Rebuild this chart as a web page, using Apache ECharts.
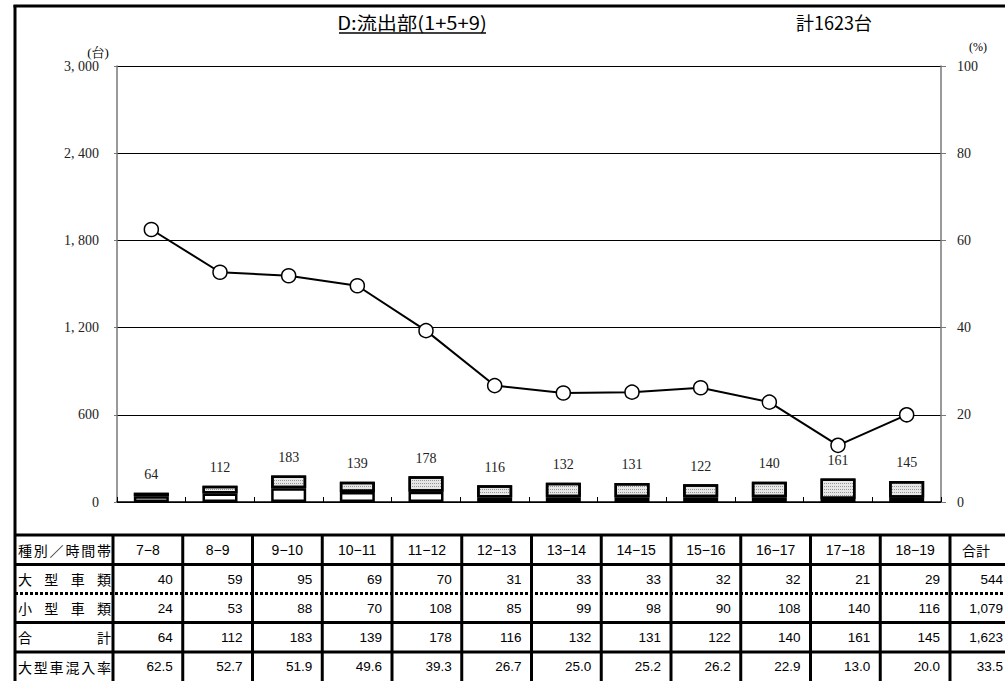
<!DOCTYPE html>
<html>
<head>
<meta charset="utf-8">
<script src="https://cdn.jsdelivr.net/npm/echarts@6/dist/echarts.min.js"></script>
<style>
  html, body { margin: 0; padding: 0; background: #fff; }
  #chart { width: 1005px; height: 681px; }
</style>
</head>
<body>
<div id="chart"></div>
<script>
// Hourly traffic at the outflow section, split by vehicle class
const hours = ['7−8', '8−9', '9−10', '10−11', '11−12', '12−13', '13−14', '14−15', '15−16', '16−17', '17−18', '18−19'];
const largeVehicles = [40, 59, 95, 69, 70, 31, 33, 33, 32, 32, 21, 29];
const smallVehicles = [24, 53, 88, 70, 108, 85, 99, 98, 90, 108, 140, 116];
const totals = [64, 112, 183, 139, 178, 116, 132, 131, 122, 140, 161, 145];
const largeShare = [62.5, 52.7, 51.9, 49.6, 39.3, 26.7, 25.0, 25.2, 26.2, 22.9, 13.0, 20.0];

// Day totals for the last table column
const sumLarge = '544';
const sumSmall = '1,079';
const sumTotal = '1,623';
const sumShare = '33.5';

// Row headings of the table
const rowHeads = ['種別／時間帯', '大型車類', '小型車類', '合計', '大型車混入率'];
const totalHead = '合計';

const titleText = 'D:流出部(1+5+9)';
const totalText = '計1623台';

const fmtCount = v => String(v).replace(/\B(?=(\d{3})+(?!\d))/g, ', ');
const fmtInt = v => String(v).replace(/\B(?=(\d{3})+(?!\d))/g, ',');

const SANS = "'Liberation Sans','Noto Sans CJK JP',sans-serif";
const JP = "'Noto Sans CJK JP',sans-serif";
const SERIF = "'Liberation Serif','Noto Serif CJK JP',serif";

// ---- table geometry ----
const tblLeft = 15;
const headColRight = 113;
const colW = 69.75;
const sumColRight = 1012;
const rowTops = [535, 564.5, 593.5, 622.5, 652, 681.5];

const graphics = [];

function hLine(x1, x2, y, w, dash) {
  graphics.push({
    type: 'line', silent: true,
    shape: { x1: x1, y1: y, x2: x2, y2: y },
    style: { stroke: '#000', lineWidth: w, lineDash: dash || null }
  });
}
function vLine(x, y1, y2, w) {
  graphics.push({
    type: 'line', silent: true,
    shape: { x1: x, y1: y1, x2: x, y2: y2 },
    style: { stroke: '#000', lineWidth: w }
  });
}
function txt(s, x, y, align, font, size, extra) {
  const el = {
    type: 'text', silent: true, x: x, y: y,
    style: {
      text: s, fill: '#000', fontSize: size, fontFamily: font,
      align: align, verticalAlign: 'middle',
      textAlign: align, textVerticalAlign: 'middle'
    }
  };
  graphics.push(Object.assign(el, extra || {}));
}
// spreads the characters of a heading across the first column
function spread(s, y) {
  const chars = Array.from(s);
  const left = 18, right = 111, cw = 14;
  const step = chars.length > 1 ? (right - left - cw) / (chars.length - 1) : 0;
  chars.forEach((c, i) => txt(c, left + cw / 2 + i * step, y, 'center', JP, 14));
}

// outer frame
hLine(tblLeft - 1.5, 1010, 6, 3);
vLine(tblLeft, 5, 681, 3);

// title (slightly widened, underlined)
txt(titleText, 412, 22, 'center', JP, 18, { scaleX: 1.12 });
graphics.push({
  type: 'line', silent: true,
  shape: { x1: 339, y1: 33, x2: 486, y2: 33 },
  style: { stroke: '#000', lineWidth: 1.3 }
});
txt(totalText, 834, 22, 'center', JP, 18);

// unit captions
txt('(台)', 98, 52, 'center', SERIF, 13);
txt('(%)', 978, 47, 'center', SERIF, 12);

// table rules
hLine(tblLeft, sumColRight, rowTops[0], 3);
hLine(tblLeft, sumColRight, rowTops[1], 3);
hLine(tblLeft, sumColRight, rowTops[2], 3, [3, 2]);
hLine(tblLeft, sumColRight, rowTops[3], 3);
hLine(tblLeft, sumColRight, rowTops[4], 3);
vLine(headColRight, rowTops[0], 681, 3);
for (let k = 1; k <= hours.length; k++) {
  vLine(headColRight + colW * k, rowTops[0], 681, 3);
}

// table texts
const rowMid = r => (rowTops[r] + rowTops[r + 1]) / 2;
rowHeads.forEach((h, r) => {
  if (r === 3) {
    txt('合', 25, rowMid(r), 'center', JP, 14);
    txt('計', 104, rowMid(r), 'center', JP, 14);
  } else {
    spread(h, rowMid(r));
  }
});
const rows = [largeVehicles.map(String), smallVehicles.map(String), totals.map(String), largeShare.map(v => v.toFixed(1))];
const sums = [sumLarge, sumSmall, sumTotal, sumShare];
hours.forEach((h, i) => {
  const cx = headColRight + colW * (i + 0.5);
  const rx = headColRight + colW * (i + 1) - 10;
  txt(h, cx, rowMid(0), 'center', SANS, 14);
  rows.forEach((vals, r) => txt(vals[i], rx, rowMid(r + 1), 'right', SANS, 13.5));
});
txt(totalHead, 976, rowMid(0), 'center', JP, 14);
sums.forEach((s, r) => txt(s, 1003, rowMid(r + 1), 'right', SANS, 13.5));

const chart = echarts.init(document.getElementById('chart'), null, { renderer: 'svg' });

chart.setOption({
  backgroundColor: '#fff',
  animation: false,
  grid: { left: 117, right: 64, top: 66, bottom: 179, containLabel: false },
  xAxis: {
    type: 'category',
    data: hours,
    boundaryGap: true,
    axisLine: { lineStyle: { color: '#000', width: 1.5 } },
    axisTick: { show: true, inside: true, length: 5, lineStyle: { color: '#000', width: 1 } },
    axisLabel: { show: false },
    splitLine: { show: false }
  },
  yAxis: [
    {
      type: 'value', min: 0, max: 3000, interval: 600,
      axisLine: { show: true, lineStyle: { color: '#777', width: 1.5 } },
      axisTick: { show: true, length: 3, lineStyle: { color: '#777' } },
      axisLabel: { margin: 18, color: '#222', fontFamily: SERIF, fontSize: 14, formatter: fmtCount },
      splitLine: { show: true, lineStyle: { color: '#000', width: 1 } }
    },
    {
      type: 'value', min: 0, max: 100, interval: 20,
      axisLine: { show: true, lineStyle: { color: '#777', width: 1.5 } },
      axisTick: { show: true, length: 5, lineStyle: { color: '#777' } },
      axisLabel: { margin: 16, color: '#222', fontFamily: SERIF, fontSize: 14 },
      splitLine: { show: false }
    }
  ],
  series: [
    {
      name: '大型車類',
      type: 'bar',
      stack: 'traffic',
      barWidth: 35,
      data: largeVehicles,
      itemStyle: { color: '#fff', borderColor: '#000', borderWidth: 2.5 }
    },
    {
      name: '小型車類',
      type: 'bar',
      stack: 'traffic',
      barWidth: 35,
      data: smallVehicles,
      itemStyle: {
        color: '#e6e6e6', borderColor: '#000', borderWidth: 2.5,
        decal: {
          symbol: 'rect', symbolSize: 1,
          dashArrayX: [1, 1], dashArrayY: [1, 2],
          color: 'rgba(0,0,0,0.35)', rotation: 0
        }
      },
      label: {
        show: true, position: 'top', distance: 11,
        fontFamily: SERIF, fontSize: 14, color: '#222',
        formatter: p => fmtInt(largeVehicles[p.dataIndex] + smallVehicles[p.dataIndex])
      }
    },
    {
      name: '大型車混入率',
      type: 'line',
      yAxisIndex: 1,
      data: largeShare,
      symbol: 'circle',
      symbolSize: 14,
      z: 5,
      lineStyle: { color: '#000', width: 2 },
      itemStyle: { color: '#fff', borderColor: '#000', borderWidth: 1.5 }
    }
  ],
  graphic: { elements: graphics }
});
</script>
</body>
</html>
